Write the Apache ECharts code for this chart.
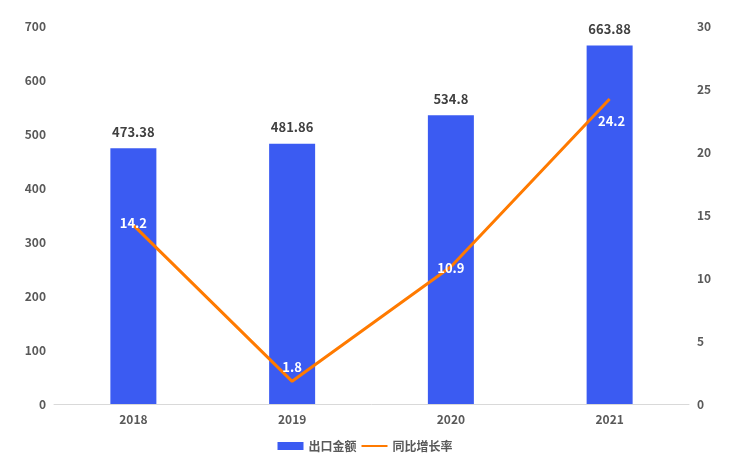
<!DOCTYPE html>
<html><head><meta charset="utf-8">
<script src="https://cdn.jsdelivr.net/npm/echarts@6/dist/echarts.min.js"></script>
<style>html,body{margin:0;padding:0;background:#fff}#c{width:730px;height:461px}</style>
</head><body><div id="c"></div>
<script>
var categories = ['2018', '2019', '2020', '2021'];
var exportValues = [473.38, 481.86, 534.8, 663.88];
var growthRates = [14.2, 1.8, 10.9, 24.2];
var leftTicks = {min: 0, max: 700, interval: 100};
var rightTicks = {min: 0, max: 30, interval: 5};

var FONT = '"Noto Sans CJK SC", "Noto Sans", sans-serif';
var chart = echarts.init(document.getElementById('c'));
var labelOffsets = [[0, -2], [0, -14], [0, 1], [2, 22]];
chart.setOption({
  animation: false,
  textStyle: {fontFamily: FONT},
  grid: {left: 54, right: 41, top: 26, bottom: 57, containLabel: false},
  legend: {
    bottom: 4, left: 'center', itemGap: 4, itemWidth: 26, itemHeight: 8,
    textStyle: {fontFamily: FONT, fontSize: 12, fontWeight: 'bold', color: '#595959'},
    data: [{name: '出口金额', icon: 'rect'}, {name: '同比增长率', itemStyle: {opacity: 0}}]
  },
  xAxis: {
    type: 'category', data: categories,
    axisLine: {lineStyle: {color: '#d9d9d9'}},
    axisTick: {show: false},
    axisLabel: {color: '#595959', fontWeight: 'bold', fontSize: 12, fontFamily: FONT, margin: 9}
  },
  yAxis: [
    {type: 'value', min: leftTicks.min, max: leftTicks.max, interval: leftTicks.interval,
     splitLine: {show: false}, axisLine: {show: false}, axisTick: {show: false},
     axisLabel: {color: '#595959', fontWeight: 'bold', fontSize: 12, fontFamily: FONT, margin: 8}},
    {type: 'value', min: rightTicks.min, max: rightTicks.max, interval: rightTicks.interval,
     splitLine: {show: false}, axisLine: {show: false}, axisTick: {show: false},
     axisLabel: {color: '#595959', fontWeight: 'bold', fontSize: 12, fontFamily: FONT, margin: 8}}
  ],
  series: [
    {name: '出口金额', type: 'bar', data: exportValues, barWidth: 46,
     itemStyle: {color: '#3B5BF2'},
     label: {show: true, position: 'top', distance: 10, color: '#404040', fontWeight: 'bold', fontSize: 13, fontFamily: FONT}},
    {name: '同比增长率', type: 'line', yAxisIndex: 1, symbol: 'circle', symbolSize: 0, showSymbol: true,
     lineStyle: {color: '#FF7A00', width: 3}, itemStyle: {color: '#FF7A00'},
     data: growthRates.map(function (v, i) {
       return {value: v, label: {offset: labelOffsets[i]}};
     }),
     label: {show: true, position: 'inside', color: '#ffffff', fontWeight: 'bold', fontSize: 13, fontFamily: FONT}}
  ]
});
</script></body></html>
